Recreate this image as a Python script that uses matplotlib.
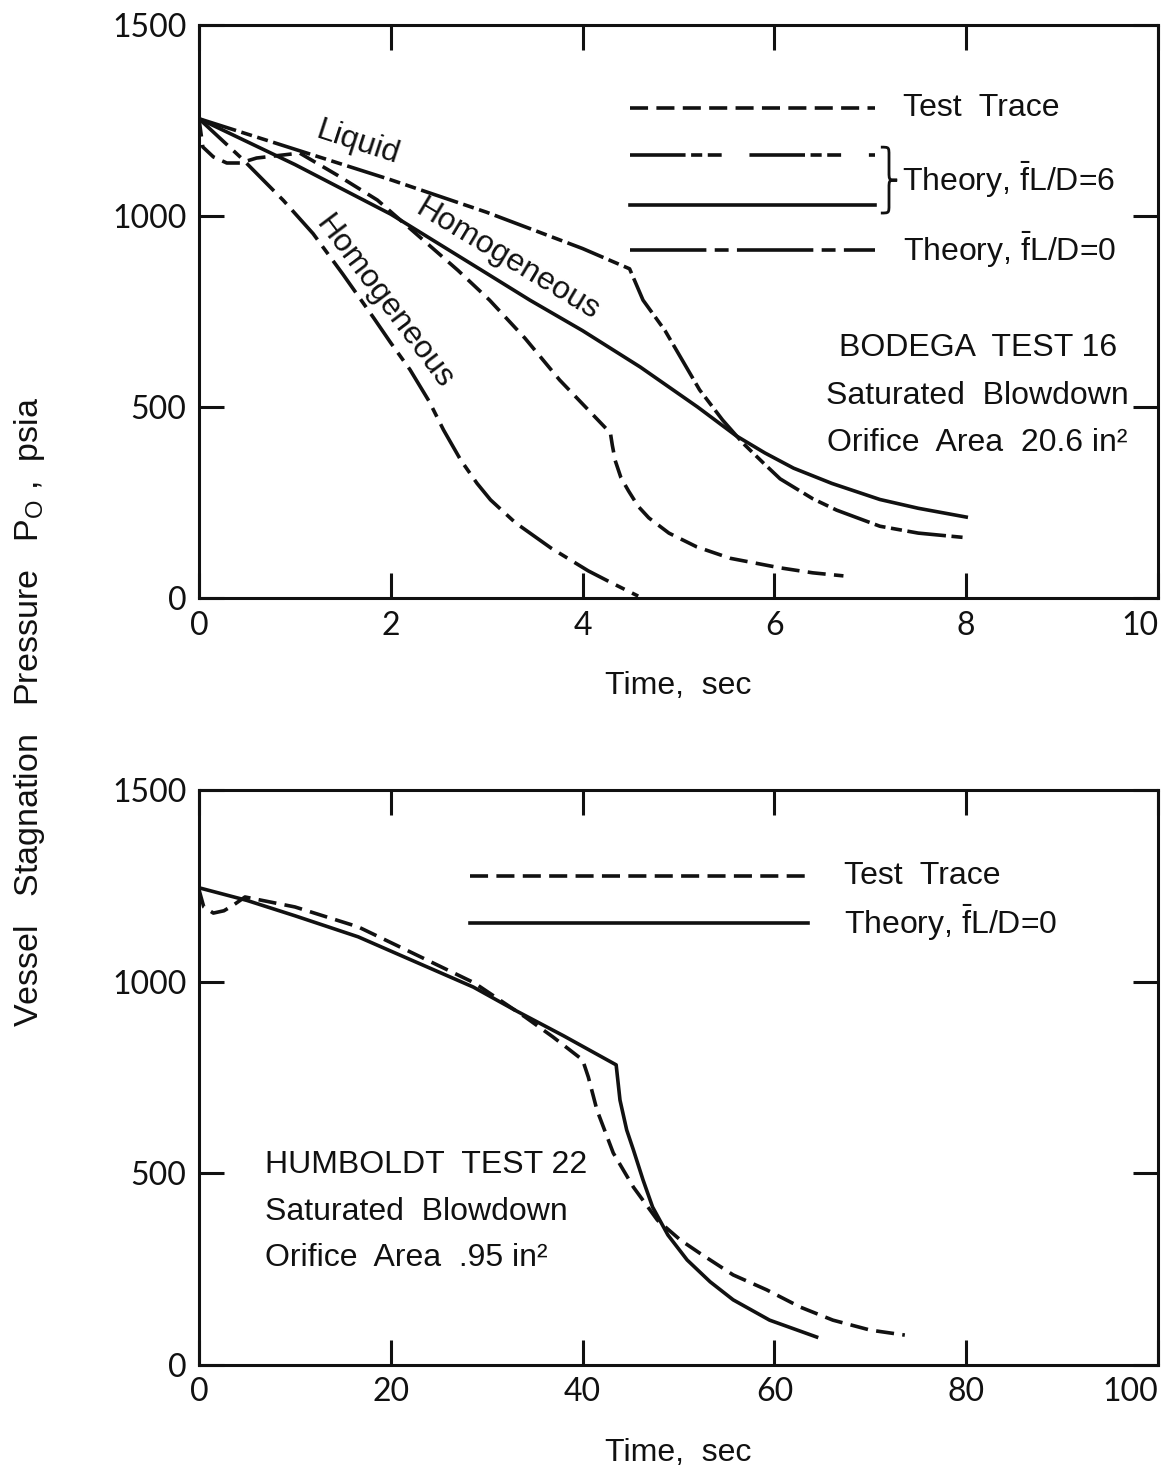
import matplotlib
matplotlib.use("Agg")
import matplotlib.pyplot as plt
from matplotlib import font_manager
from matplotlib.lines import Line2D
from matplotlib.path import Path
from matplotlib.patches import PathPatch

# ---------------- Bodega Test 16 (upper panel), time in s, pressure in psia ----------------
bodega_test_t = [0.0, 0.04, 0.15, 0.29, 0.43, 0.60, 1.05, 1.45, 1.86, 2.34, 2.70, 3.03,
                 3.40, 3.76, 4.05, 4.29, 4.31, 4.34, 4.40, 4.48, 4.58, 4.69, 4.90, 5.19,
                 5.54, 6.06, 6.40, 6.72]
bodega_test_p = [1255, 1181, 1155, 1139, 1139, 1152, 1165, 1106, 1042, 937, 858, 780,
                 680, 571, 495, 432, 400, 360, 315, 280, 240, 210, 170, 134,
                 104, 79, 66, 58]

bodega_liquid_t = [0.0, 1.0, 2.0, 3.0, 4.0, 4.49, 4.63, 4.86, 5.22, 5.46, 5.67, 5.90,
                   6.06, 6.40, 6.65, 7.10, 7.50, 8.0]
bodega_liquid_p = [1255, 1175, 1095, 1010, 915, 862, 780, 700, 545, 466, 406, 350,
                   312, 260, 230, 188, 170, 158]

bodega_homog6_t = [0.0, 1.0, 2.0, 3.0, 3.45, 4.0, 4.6, 5.2, 5.6, 5.9, 6.2, 6.6, 7.1,
                   7.5, 8.0]
bodega_homog6_p = [1255, 1135, 1005, 850, 780, 700, 605, 500, 425, 380, 340, 300, 258,
                   235, 212]

bodega_homog0_t = [0.0, 0.45, 0.88, 1.19, 1.50, 1.82, 2.0, 2.2, 2.4, 2.55, 2.73, 2.90,
                   3.04, 3.30, 3.67, 4.06, 4.30, 4.58]
bodega_homog0_p = [1255, 1150, 1041, 954, 848, 734, 668, 598, 515, 440, 361, 300,
                   257, 197, 131, 71, 40, 5]

# ---------------- Humboldt Test 22 (lower panel) ----------------
humboldt_test_t = [0.0, 0.5, 1.5, 2.6, 3.6, 4.8, 10.0, 16.6, 22.5, 28.7, 34.0, 36.9,
                   40.0, 40.6, 41.5, 43.2, 45.3, 47.8, 50.2, 52.2, 55.7, 59.2, 62.7,
                   66.1, 70.0, 73.6]
humboldt_test_p = [1240, 1195, 1179, 1185, 1200, 1221, 1195, 1143, 1072, 997, 908, 856,
                   796, 751, 665, 553, 464, 378, 326, 292, 235, 196, 151,
                   117, 91, 78]

humboldt_theory_t = [0.0, 5.0, 10.0, 16.6, 22.0, 28.6, 33.0, 38.0, 43.5, 43.9, 44.6,
                     45.3, 46.3, 47.3, 48.9, 50.9, 53.3, 55.7, 59.5, 64.4]
humboldt_theory_p = [1245, 1212, 1172, 1117, 1058, 986, 925, 859, 783, 691, 613,
                     561, 483, 412, 339, 274, 217, 170, 117, 73]

# axis ticks
top_xticks = [0, 2, 4, 6, 8, 10]
bottom_xticks = [0, 20, 40, 60, 80, 100]
yticks = [0, 500, 1000, 1500]


def pick(*names):
    avail = {f.name for f in font_manager.fontManager.ttflist}
    for n in names:
        if n in avail:
            return n
    return "DejaVu Sans"


TEXT_FONT = pick("Liberation Sans Narrow", "Liberation Sans")
TICK_FONT = pick("Lato", "DejaVu Sans")

plt.rcParams["font.family"] = [TEXT_FONT, "DejaVu Sans"]
plt.rcParams["lines.scale_dashes"] = False
plt.rcParams["mathtext.default"] = "regular"

INK = "#111111"
LW = 2.6

TEST_DASH = (0, (13, 6))
LIQ_DASH = (0, (28, 4, 8, 4, 8, 4))
THEORY0_DASH = (0, (28, 6, 7, 6))

fig = plt.figure(figsize=(11.76, 14.69), dpi=100)
ax1 = fig.add_axes([0.1692, 0.5929, 0.8155, 0.3900])
ax2 = fig.add_axes([0.1692, 0.0708, 0.8155, 0.3914])


def style_axes(ax, xmax, xticks):
    ax.set_xlim(0, xmax)
    ax.set_ylim(0, 1500)
    ax.set_xticks(xticks)
    ax.set_yticks(yticks)
    for s in ax.spines.values():
        s.set_linewidth(2.2)
        s.set_color(INK)
    ax.tick_params(direction="in", length=18, width=2.2, color=INK,
                   top=True, right=True, labelsize=23, pad=9, labelcolor=INK)
    for lab in ax.get_xticklabels() + ax.get_yticklabels():
        lab.set_fontfamily(TICK_FONT)
    ax.get_xticklabels()[-1].set_horizontalalignment("right")
    ax.set_xlabel("Time,  sec", fontsize=23, labelpad=22, color=INK)


def curly_brace(ax, x0, x1, ytop, ybot):
    """Closing brace '}' drawn as a path in axes coordinates."""
    xm = 0.5 * (x0 + x1)
    ymid = 0.5 * (ytop + ybot)
    h = ytop - ymid
    verts = [
        (x0, ytop),
        (xm, ytop), (xm, ytop), (xm, ytop - 0.25 * h),
        (xm, ymid + 0.25 * h),
        (xm, ymid), (xm, ymid), (x1, ymid),
        (xm, ymid), (xm, ymid), (xm, ymid - 0.25 * h),
        (xm, ybot + 0.25 * h),
        (xm, ybot), (xm, ybot), (x0, ybot),
    ]
    codes = [Path.MOVETO,
             Path.CURVE4, Path.CURVE4, Path.CURVE4,
             Path.LINETO,
             Path.CURVE4, Path.CURVE4, Path.CURVE4,
             Path.CURVE4, Path.CURVE4, Path.CURVE4,
             Path.LINETO,
             Path.CURVE4, Path.CURVE4, Path.CURVE4]
    ax.add_patch(PathPatch(Path(verts, codes), transform=ax.transAxes,
                           fill=False, edgecolor=INK, lw=2.0, clip_on=False))


style_axes(ax1, 10, top_xticks)
style_axes(ax2, 100, bottom_xticks)

# ---- upper panel curves ----
ax1.plot(bodega_test_t, bodega_test_p, color=INK, lw=LW, linestyle=TEST_DASH)
ax1.plot(bodega_liquid_t, bodega_liquid_p, color=INK, lw=LW, linestyle=LIQ_DASH)
ax1.plot(bodega_homog6_t, bodega_homog6_p, color=INK, lw=LW, linestyle="-")
ax1.plot(bodega_homog0_t, bodega_homog0_p, color=INK, lw=LW, linestyle=THEORY0_DASH)

ax1.text(1.65, 1191, "Liquid", rotation=-18, rotation_mode="anchor",
         ha="center", va="center", fontsize=23, color=INK)
ax1.text(3.22, 885, "Homogeneous", rotation=-31, rotation_mode="anchor",
         ha="center", va="center", fontsize=23, color=INK)
ax1.text(1.93, 775, "Homogeneous", rotation=-53, rotation_mode="anchor",
         ha="center", va="center", fontsize=23, color=INK)

# key for the upper panel
key1 = [
    (0.855, TEST_DASH, "Test  Trace"),
    (0.773, (0, (40, 4, 8, 4, 10, 20)), None),
    (0.686, "-", None),
    (0.607, (0, (55, 6, 10, 6)), r"Theory, $\bar{f}$L/D=0"),
]
for y, ls, label in key1:
    ax1.add_line(Line2D([0.449, 0.705], [y, y], transform=ax1.transAxes,
                        color=INK, lw=LW, linestyle=ls))
    if label:
        ax1.text(0.734, y, label, transform=ax1.transAxes, ha="left",
                 va="center", fontsize=23, color=INK)
curly_brace(ax1, 0.711, 0.728, 0.787, 0.672)
ax1.text(0.733, 0.729, r"Theory, $\bar{f}$L/D=6", transform=ax1.transAxes,
         ha="left", va="center", fontsize=23, color=INK)

for y, s in [(0.436, "BODEGA  TEST 16"), (0.353, "Saturated  Blowdown"),
             (0.271, "Orifice  Area  20.6 in\u00b2")]:
    ax1.text(0.812, y, s, transform=ax1.transAxes, ha="center", va="center",
             fontsize=23, color=INK)

# ---- lower panel curves ----
ax2.plot(humboldt_test_t, humboldt_test_p, color=INK, lw=LW, linestyle=TEST_DASH)
ax2.plot(humboldt_theory_t, humboldt_theory_p, color=INK, lw=LW, linestyle="-")

for y, ls, label in [(0.850, TEST_DASH, "Test  Trace"),
                     (0.769, "-", r"Theory, $\bar{f}$L/D=0")]:
    ax2.add_line(Line2D([0.283, 0.635], [y, y], transform=ax2.transAxes,
                        color=INK, lw=LW, linestyle=ls))
    ax2.text(0.673, y, label, transform=ax2.transAxes, ha="left", va="center",
             fontsize=23, color=INK)

for y, s in [(0.348, "HUMBOLDT  TEST 22"), (0.266, "Saturated  Blowdown"),
             (0.186, "Orifice  Area  .95 in\u00b2")]:
    ax2.text(0.069, y, s, transform=ax2.transAxes, ha="left", va="center",
             fontsize=23, color=INK)

fig.text(30 / 1176, 1 - 712 / 1469,
         r"Vessel   Stagnation   Pressure   P$_{O}$ ,  psia",
         rotation=90, ha="center", va="center", fontsize=24.5, color=INK)

fig.savefig("out.png", dpi=100, facecolor="white")
